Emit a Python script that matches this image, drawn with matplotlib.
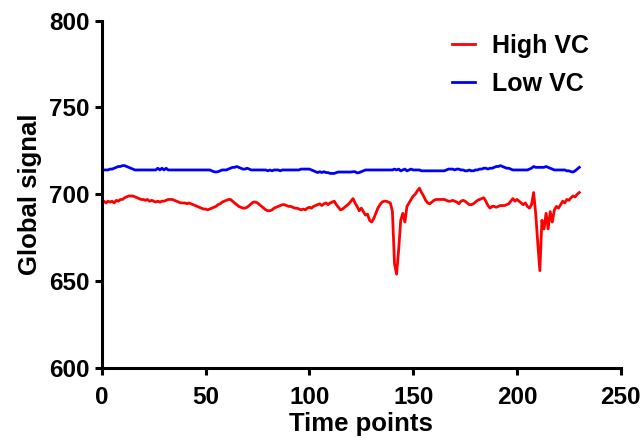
import matplotlib
matplotlib.use("Agg")
import matplotlib.pyplot as plt

plt.rcParams['font.family'] = ['Liberation Sans', 'DejaVu Sans']
plt.rcParams['font.weight'] = 'bold'

# Global signal per time point
high_vc = [
    695, 696, 695, 696, 695.5, 696, 695, 696.5, 696, 697,
    697, 698, 698.5, 699, 699, 699, 698.5, 698, 697.5, 697,
    697, 696.5, 697, 696, 696.5, 696, 695.5, 696, 695.5, 696,
    696, 696.5, 697, 697, 697, 696.5, 696, 695.5, 695, 695,
    695, 694.5, 695, 694.5, 694, 693.5, 693, 692.5, 692, 691.5,
    691.5, 691, 691.5, 692, 692.5, 693, 694, 694.5, 695.5, 696,
    696.5, 697, 697, 696, 695, 694, 693, 692.5, 692, 692,
    692.5, 693.5, 694.5, 695.5, 695.5, 695, 694, 693, 692, 691,
    690.5, 690.5, 691, 692, 692.5, 693, 693.5, 694, 694, 693.5,
    693, 693, 692.5, 692, 692, 691.5, 691, 691.5, 691, 692,
    692.5, 692, 693, 693.5, 694, 694.5, 693.5, 694.5, 695, 694,
    695, 695.5, 696, 694, 692.5, 691, 691.5, 692.5, 693.5, 694.5,
    696, 697.5, 695, 693, 690.5, 692, 690, 688, 688.5, 685,
    684, 686, 689, 692, 694, 695.5, 696, 696, 695.5, 695,
    690, 660, 654, 668, 685, 689, 684, 693, 695, 697,
    699, 700, 702, 703.5, 701, 699, 696.5, 695, 694.5, 695.5,
    696.5, 697, 697, 697, 697, 697, 696.5, 696, 696, 696.5,
    696, 695.5, 694.5, 696, 696.5, 696, 695, 694, 694, 694.5,
    695.5, 696.5, 697, 697.5, 698, 696, 693.5, 692, 693, 693,
    692.5, 693, 693.5, 693.5, 693.5, 694, 694.5, 696, 697.5, 696,
    697, 696, 695, 694, 695, 693, 692, 694, 701, 689,
    672, 656, 685, 680, 689, 680, 690, 684, 691, 693,
    692, 694, 696, 695, 697, 696.5, 698, 699, 698.5, 700,
    701,
]

low_vc = [
    714, 714, 714, 714, 714.5, 714.5, 715, 715.5, 716, 716,
    716.5, 716.5, 716, 715.5, 715, 714.5, 714, 714, 714, 714,
    714, 714, 714, 714, 714, 714, 714, 715, 714, 715,
    714, 715, 714, 714, 714, 714, 714, 714, 714, 714,
    714, 714, 714, 714, 714, 714, 714, 714, 714, 714,
    714, 714, 714, 713.5, 713, 712.8, 713, 713.5, 714, 714,
    714, 714.5, 715, 715.5, 715.5, 716, 715.5, 715, 714.5, 714.5,
    715, 714.5, 714, 714, 714, 714, 714, 714, 714, 714,
    713.5, 714, 713.5, 714, 714, 714, 713.5, 714, 714, 714,
    714, 714, 714, 714, 714, 714, 714.5, 714.5, 714.5, 714.5,
    714.5, 714, 713.5, 713, 712.5, 713, 712.5, 713, 712.5, 712.5,
    712, 712, 712, 712.5, 712.8, 712.8, 712.8, 712.8, 712.8, 712.8,
    712.8, 713, 713, 712.3, 712.5, 713, 713.5, 714, 714, 714,
    714, 714, 714, 714, 714, 714, 714, 714, 714, 714,
    714, 714.5, 714, 714.5, 713.5, 714, 714.5, 713.5, 714, 714.5,
    714, 714, 714, 714, 713.5, 713.5, 713.5, 713.5, 713.5, 713.5,
    713.5, 713.5, 713.5, 713.5, 713.5, 713.5, 714, 714.5, 714.5, 714.5,
    714, 714.5, 714.5, 714, 714, 713.5, 713.5, 714, 713.5, 713.5,
    714, 714, 714.5, 714.5, 715, 715, 714.5, 715, 715, 715.5,
    716, 716, 716.5, 716, 715.5, 715, 715, 714.5, 714, 714,
    714, 714, 714, 714, 714, 714, 714.5, 715, 716, 715.5,
    715.5, 715.5, 715.5, 715.5, 716, 715.5, 715, 714.5, 714, 714,
    714, 714, 714, 714, 713.5, 713.5, 713, 712.8, 713.5, 714.5,
    715.5,
]

time_points = list(range(len(high_vc)))


def main():
    fig = plt.figure(figsize=(6.44, 4.4), dpi=100)
    ax = fig.add_axes([0.158, 0.164, 0.806, 0.789])

    ax.plot(time_points, high_vc, color="#ff0000", lw=2.0, label="High VC")
    ax.plot(time_points, low_vc, color="#0000ff", lw=2.0, label="Low VC")

    ax.set_xlim(0, 250)
    ax.set_ylim(600, 800)
    ax.set_xticks([0, 50, 100, 150, 200, 250])
    ax.set_yticks([600, 650, 700, 750, 800])

    for side in ["top", "right"]:
        ax.spines[side].set_visible(False)
    for side in ["left", "bottom"]:
        ax.spines[side].set_linewidth(2.2)
    ax.tick_params(direction="out", length=5, width=2.2, labelsize=17.5)
    ax.tick_params(axis="x", pad=8)
    ax.tick_params(axis="y", pad=4)

    ax.set_xlabel("Time points", fontsize=18.5, fontweight="bold", labelpad=2)
    ax.set_ylabel("Global signal", fontsize=18.5, fontweight="bold", labelpad=5)

    ax.legend(loc="upper right", frameon=False, fontsize=18, handlelength=0.9,
              handletextpad=0.7, labelspacing=0.55, bbox_to_anchor=(0.983, 1.026))

    fig.savefig("out.png", dpi=100)


if __name__ == '__main__':
    main()
